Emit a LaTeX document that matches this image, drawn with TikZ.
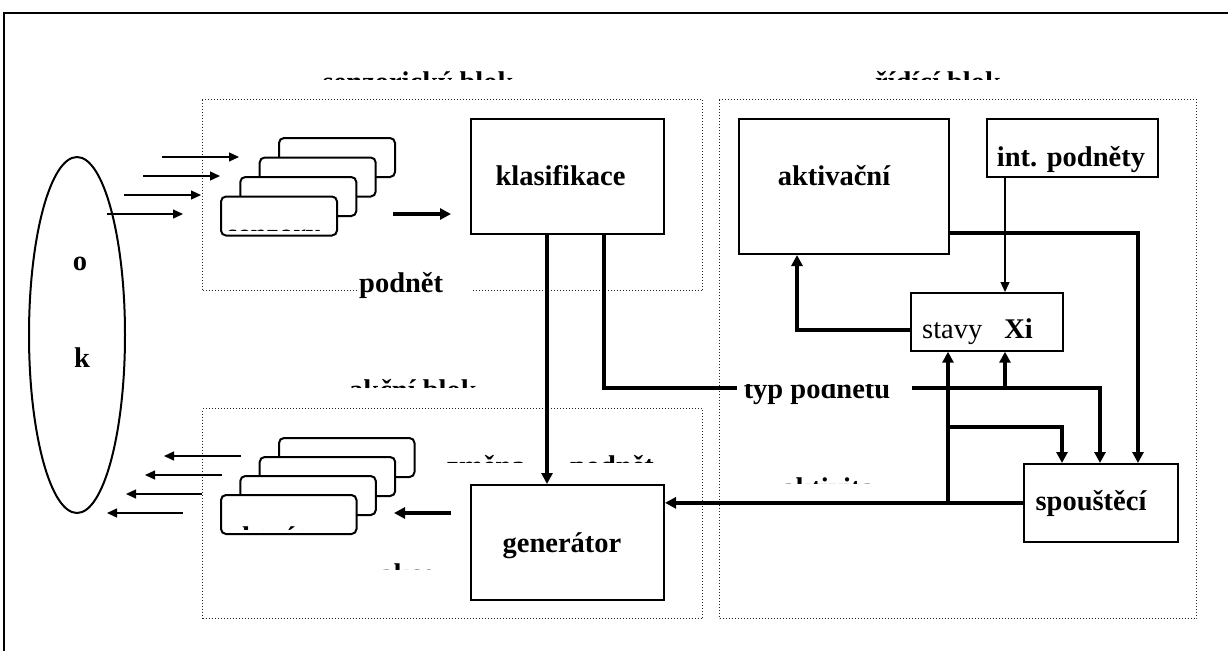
\documentclass[tikz,border=0pt]{standalone}
\usepackage{fontspec}
\setmainfont{Liberation Serif}
\usetikzlibrary{arrows.meta,shapes.geometric}

\begin{document}
\begin{tikzpicture}[x=1pt,y=-1pt,
  lbl/.style={font=\fontsize{28.5}{30}\selectfont\bfseries, inner sep=0pt, anchor=base},
  box/.style={draw, line width=2pt, fill=white, inner sep=0pt, anchor=north west},
  sbox/.style={box, line width=1.7pt},
  blk/.style={draw=black!85, dotted, line width=1pt, inner sep=0pt, anchor=north west},
  card/.style={draw, line width=2pt, rounded corners=5pt, fill=white, inner sep=0pt, anchor=north west},
  thk/.style={line width=4.5pt},
  thn/.style={line width=1.3pt},
  tipk/.style={-{Triangle[length=11pt,width=11pt]}},
  tipn/.style={-{Triangle[length=10pt,width=9pt]}}
]
\useasboundingbox (0,0) rectangle (1228,651);

% outer frame
\draw[line width=2pt] (4,651) -- (4,13) -- (1228,13);

% environment
\node[draw, ellipse, line width=2pt, minimum width=96, minimum height=356, inner sep=0pt] (okoli) at (77,335) {};
\node[lbl] (to) at (80,270) {o};
\node[lbl] (tk) at (82,367) {k};

% the three blocks
\node[blk, minimum width=500, minimum height=191] (senzblk) at (202,99) {};
\node[blk, minimum width=500, minimum height=210] (akcblk) at (202,408) {};
\node[blk, minimum width=477, minimum height=519] (ridblk) at (719,99) {};

% block titles, partly covered
\begin{scope}
  \clip (300,60) rectangle (1100,79);
  \node[lbl] (tsenzblk) at (418,91) {senzorický blok};
  \node[lbl] (tridblk) at (938,91) {řídící blok};
\end{scope}
\begin{scope}
  \clip (300,370) rectangle (540,387.5);
  \node[lbl] (takcblk) at (413,399) {akční blok};
\end{scope}

% stimuli coming in, actions going out
\coordinate (i1) at (162,157); \coordinate (j1) at (239,157);
\coordinate (i2) at (143,176); \coordinate (j2) at (220,176);
\coordinate (i3) at (124,195); \coordinate (j3) at (201,195);
\coordinate (i4) at (107,214); \coordinate (j4) at (183,214);
\foreach \n in {1,...,4} \draw[thn,tipn] (i\n) -- (j\n);
\coordinate (o1) at (241,456); \coordinate (p1) at (164,456);
\coordinate (o2) at (222,475); \coordinate (p2) at (145,475);
\coordinate (o3) at (202,494); \coordinate (p3) at (126,494);
\coordinate (o4) at (183,513); \coordinate (p4) at (107,513);
\foreach \n in {1,...,4} \draw[thn,tipn] (o\n) -- (p\n);

% sensor stack
\node[card, minimum width=116, minimum height=39] (s4) at (278,137) {};
\node[card, minimum width=116, minimum height=39] (s3) at (258.7,156.5) {};
\node[card, minimum width=116, minimum height=39] (s2) at (239.3,176) {};
\node[card, minimum width=116, minimum height=39] (s1) at (220,195.5) {};
\begin{scope}
  \clip (225,200) rectangle (331,230.5);
  \node[lbl] (tsenz) at (273.5,243) {senzory};
\end{scope}

% actuator stack
\node[card, minimum width=135.5, minimum height=39] (a4) at (278,437) {};
\node[card, minimum width=135.5, minimum height=39] (a3) at (258.7,456) {};
\node[card, minimum width=135.5, minimum height=39] (a2) at (239.3,475) {};
\node[card, minimum width=135.5, minimum height=39] (a1) at (220,494) {};
\begin{scope}
  \clip (225,500) rectangle (350,529.5);
  \node[lbl] (takt) at (288,546) {aktuátory};
\end{scope}

% main boxes
\node[box, minimum width=193, minimum height=115] (klas) at (470,118) {};
\node[box, minimum width=193, minimum height=115] (gen) at (470,484) {};
\node[box, minimum width=210, minimum height=135] (aktiv) at (738,118) {};
\node[sbox, minimum width=171, minimum height=58] (intp) at (986,118) {};
\node[sbox, minimum width=152, minimum height=58] (stavy) at (910,292) {};
\node[sbox, minimum width=154, minimum height=78] (spoust) at (1023,463) {};

% connectors
\coordinate (sk1) at (393,214); \coordinate (sk2) at (451,214);
\draw[thk,tipk] (sk1) -- (sk2);
\coordinate (ga1) at (451,513); \coordinate (ga2) at (394,513);
\draw[thk,tipk] (ga1) -- (ga2);

\draw[thk,tipk] (klas.south -| 547,0) -- (gen.north -| 547,0);
\draw[thk,tipk] (klas.south -| 604,0) -- (604,388) -- (1100,388) -- (spoust.north -| 1100,0);
\draw[thk,tipk] (1005,388) -- (stavy.south -| 1005,0);
\draw[thk,tipk] (aktiv.east |- 0,233) -- (1138,233) -- (spoust.north -| 1138,0);
\draw[thk,tipk] (stavy.west |- 0,330) -- (797,330) -- (aktiv.south -| 797,0);
\draw[thk,tipk] (spoust.west) -- (gen.east |- spoust.west);
\draw[thk,tipk] (948,502) -- (stavy.south -| 948,0);
\draw[thk,tipk] (948,427) -- (1062,427) -- (spoust.north -| 1062,0);
\draw[thn,tipn] (intp.south -| 1005,0) -- (stavy.north -| 1005,0);

% label over the stimulus-type line
\node[fill=white, inner sep=0pt, anchor=north west, minimum width=175, minimum height=40] (typbox) at (737,368) {};
\begin{scope}
  \clip (737,384.5) rectangle (912,408);
  \node[lbl] (ttyp) at (817,398.5) {typ podnětu};
\end{scope}

% label on the sensor block border
\node[font=\fontsize{28.5}{30}\selectfont\bfseries, fill=white, inner sep=0pt, anchor=base west,
      text width=114, align=left] (tpodnet) at (359,292) {podnět};

% partly covered labels
\begin{scope}
  \clip (440,440) rectangle (670,462);
  \node[lbl] (tzmena) at (486,475) {změna};
  \node[lbl] (tpodnet2) at (612,475) {podnět};
\end{scope}
\begin{scope}
  \clip (370,550) rectangle (450,569);
  \node[lbl] (takce) at (407,583) {akce};
\end{scope}
\begin{scope}
  \clip (770,465) rectangle (890,483);
  \node[lbl] (taktivita) at (828,497) {aktivita};
\end{scope}

% box texts
\node[lbl] (tklas) at (560.5,185) {klasifikace};
\node[lbl] (tgen) at (562,552) {generátor};
\node[lbl] (taktiv) at (834,185) {aktivační};
\node[lbl] (tintp) at (1071,166) {int. podněty};
\node[lbl] (tspoust) at (1091,510) {spouštěcí};
\node[lbl, anchor=base west] (tstavy) at (922,338) {{\mdseries stavy}\hspace{22pt}Xi};

\end{tikzpicture}
\end{document}
